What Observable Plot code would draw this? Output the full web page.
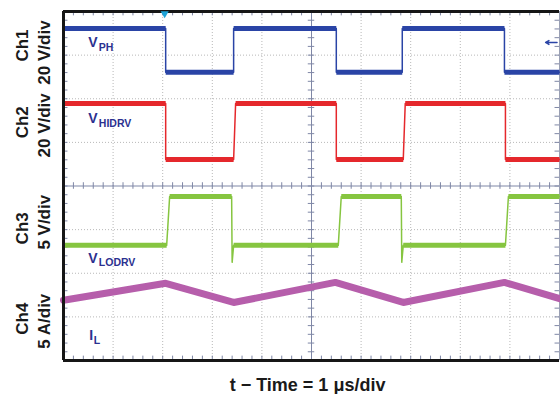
<!DOCTYPE html>
<html>
<head>
<meta charset="utf-8">
<script src="https://cdn.jsdelivr.net/npm/d3@7"></script>
<script src="https://cdn.jsdelivr.net/npm/@observablehq/plot@0.6"></script>
<style>
  html, body { margin: 0; padding: 0; background: #fff; }
</style>
</head>
<body>
<div id="chart"></div>
<script>
// Time in divisions (1 µs/div), levels in screen divisions (0 = bottom, 8 = top)
const ch1Time = [0, 2.06, 2.06, 3.43, 3.43, 5.50, 5.50, 6.83, 6.83, 8.89, 8.89, 10];
const ch1Level = [7.61, 7.61, 6.61, 6.61, 7.61, 7.61, 6.61, 6.61, 7.61, 7.61, 6.61, 6.61];

const ch2Time = [0, 2.06, 2.06, 3.43, 3.47, 5.50, 5.50, 6.85, 6.89, 8.91, 8.91, 10];
const ch2Level = [5.89, 5.89, 4.61, 4.61, 5.89, 5.89, 4.61, 4.61, 5.89, 5.89, 4.61, 4.61];

const ch3Time = [0, 2.08, 2.14, 3.39, 3.40, 3.43, 5.54, 5.60, 6.81, 6.82, 6.85, 8.91, 8.97, 10];
const ch3Level = [2.64, 2.64, 3.76, 3.76, 2.25, 2.64, 2.64, 3.76, 3.76, 2.25, 2.64, 2.64, 3.76, 3.76];

const ch4Time = [0, 2.06, 3.43, 5.48, 6.85, 8.89, 10];
const ch4Level = [1.38, 1.77, 1.33, 1.79, 1.33, 1.79, 1.42];

const channels = ["Ch1", "Ch2", "Ch3", "Ch4"];
const scales = ["20 V/div", "20 V/div", "5 V/div", "5 A/div"];
const traceNames = ["V", "V", "V", "I"];
const traceSubs = ["PH", "HIDRV", "LODRV", "L"];
const xLabel = "t \u2212 Time = 1 \u03bcs/div";

const toPts = (T, L) => T.map((t, i) => ({t, v: L[i]}));
// flat (constant-level) portions of a square trace
const flats = (T, L) => T.slice(1).map((t, i) => ({t1: T[i], t2: t, v1: L[i], v2: L[i + 1]})).filter(s => s.v1 === s.v2);

const xMinor = d3.range(0, 50.5, 1).map(d => d / 5);
const yMinor = d3.range(0, 40.5, 1).map(d => d / 5);

const axisColor = "#7f87a6";
const gridColor = "#b8b8b8";
const labelBlue = "#2b3190";
const c1 = "#2a44a6", c2 = "#e5282c", c3 = "#86c540", c4 = "#b65eab";

// label layout (data units)
const chanY = [7.22, 5.46, 3.03, 0.96];
const scaleY = [7.06, 5.39, 3.17, 0.9];
const traceY = [7.28, 5.54, 2.34, 0.57];

function squareTrace(T, L, color) {
  return [
    Plot.line(toPts(T, L), {x: "t", y: "v", stroke: color, strokeWidth: 1.5}),
    Plot.link(flats(T, L), {x1: "t1", x2: "t2", y1: "v1", y2: "v2", stroke: color, strokeWidth: 5})
  ];
}

const chart = Plot.plot({
  width: 560,
  height: 394,
  marginLeft: 63,
  marginRight: 1,
  marginTop: 11,
  marginBottom: 34,
  x: {domain: [0, 10], axis: null},
  y: {domain: [0, 8], axis: null},
  style: {fontFamily: "'Liberation Sans', Arial, sans-serif", background: "#fff", overflow: "visible"},
  marks: [
    // dotted graticule
    Plot.ruleX([1, 2, 3, 4, 6, 7, 8, 9], {stroke: gridColor, strokeDasharray: "1,2", strokeWidth: 1}),
    Plot.ruleY([1, 2, 3, 5, 6, 7], {stroke: gridColor, strokeDasharray: "1,2", strokeWidth: 1}),
    // central crosshair with minor ticks
    Plot.ruleX([5], {stroke: axisColor, strokeWidth: 1}),
    Plot.ruleY([4], {stroke: axisColor, strokeWidth: 1}),
    Plot.ruleX(xMinor, {x: d => d, y1: 4 - 0.075, y2: 4 + 0.075, stroke: axisColor}),
    Plot.ruleY(yMinor, {y: d => d, x1: 5 - 0.065, x2: 5 + 0.065, stroke: axisColor}),
    // edge ticks
    Plot.ruleX(xMinor, {x: d => d, y1: 8, y2: 8 - 0.1, stroke: axisColor}),
    Plot.ruleX(xMinor, {x: d => d, y1: 0, y2: 0.1, stroke: axisColor}),
    Plot.ruleY(yMinor, {y: d => d, x1: 0, x2: 0.09, stroke: axisColor}),
    Plot.ruleY(yMinor, {y: d => d, x1: 10, x2: 9.91, stroke: axisColor}),
    Plot.ruleX([10], {stroke: "#9aa0b4", strokeWidth: 1}),
    // traces
    ...squareTrace(ch1Time, ch1Level, c1),
    ...squareTrace(ch2Time, ch2Level, c2),
    ...squareTrace(ch3Time, ch3Level, c3),
    Plot.line(toPts(ch4Time, ch4Level), {x: "t", y: "v", stroke: c4, strokeWidth: 7}),
    // frame
    Plot.ruleY([8], {stroke: "#161616", strokeWidth: 3}),
    Plot.ruleY([0], {stroke: "#161616", strokeWidth: 3}),
    Plot.ruleX([0], {stroke: "#161616", strokeWidth: 3}),
    // markers
    Plot.dot([2.04], {x: d => d, y: 8, symbol: "triangle", rotate: 180, r: 3, fill: "#1ea4d8", dy: 2}),
    Plot.arrow([0], {x1: 9.95, x2: 9.72, y1: 7.29, y2: 7.29, stroke: c1, strokeWidth: 1.5, headLength: 8}),
    // trace labels
    Plot.text([0, 1, 2], {x: 0.5, y: i => traceY[i], text: i => traceNames[i], fill: labelBlue, fontSize: 14, fontWeight: "bold", textAnchor: "start"}),
    Plot.text([0, 1, 2], {x: 0.5, y: i => traceY[i], text: i => traceSubs[i], fill: labelBlue, fontSize: 10.5, fontWeight: "bold", textAnchor: "start", dx: 10.5, dy: 4.5}),
    Plot.text([3], {x: 0.52, y: i => traceY[i], text: i => traceNames[i], fill: labelBlue, fontSize: 14, fontWeight: "bold", textAnchor: "start"}),
    Plot.text([3], {x: 0.52, y: i => traceY[i], text: i => traceSubs[i], fill: labelBlue, fontSize: 10.5, fontWeight: "bold", textAnchor: "start", dx: 4.5, dy: 4.5}),
    // channel labels
    Plot.text([0, 1, 2, 3], {x: -0.83, y: i => chanY[i], text: i => channels[i], rotate: -90, fontSize: 17, fontWeight: "bold", fill: "#1a1a1a"}),
    Plot.text([0, 1, 2, 3], {x: -0.38, y: i => scaleY[i], text: i => scales[i], rotate: -90, fontSize: 17, fontWeight: "bold", fill: "#1a1a1a"}),
    // x label
    Plot.text([xLabel], {x: 4.92, y: -0.57, text: d => d, fontSize: 18, fontWeight: "bold", fill: "#1a1a1a"})
  ]
});
document.getElementById("chart").appendChild(chart);
</script>
</body>
</html>
